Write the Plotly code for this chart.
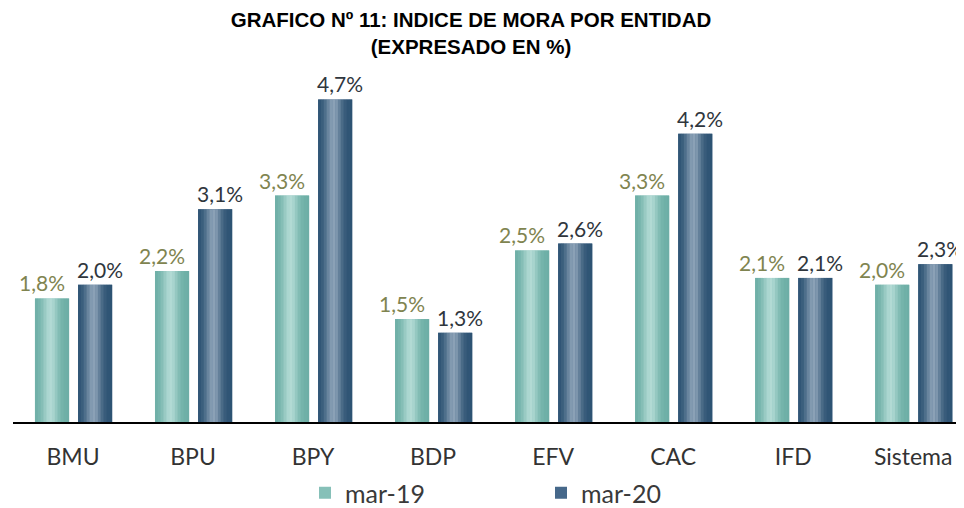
import math
import plotly.graph_objects as go

categories = ["BMU", "BPU", "BPY", "BDP", "EFV", "CAC", "IFD", "Sistema"]
mar19 = [1.8, 2.2, 3.3, 1.5, 2.5, 3.3, 2.1, 2.0]
mar20 = [2.0, 3.1, 4.7, 1.3, 2.6, 4.2, 2.1, 2.3]
series_names = ["mar-19", "mar-20"]

FONT = "Lato, 'Open Sans', sans-serif"
BAR_W = 0.283
styles = [
    dict(offset=-0.317, edge=(0x6c, 0xae, 0xa5), hi=(0xb2, 0xda, 0xd4), legend="#86c0b8",
         label_color="#7f8450", xshift=-10),
    dict(offset=0.042, edge=(0x2c, 0x52, 0x72), hi=(0x8b, 0xa1, 0xb6), legend="#46688a",
         label_color="#2f363d", xshift=5),
]


def mix(a, b, t):
    return "rgb(%d,%d,%d)" % tuple(round(a[i] + (b[i] - a[i]) * t) for i in range(3))


fig = go.Figure()
N = 12
for name, vals, st in zip(series_names, [mar19, mar20], styles):
    # base bar (also carries the legend entry)
    fig.add_trace(go.Bar(x=categories, y=vals, name=name, offset=st["offset"], width=BAR_W,
                         marker=dict(color=st["legend"], line=dict(width=0)),
                         hoverinfo="skip"))
    # cylinder shading stripes
    sw = BAR_W / N
    for k in range(N):
        t = (k + 0.5) / N
        h = math.exp(-((t - 0.45) / 0.24) ** 2)
        fig.add_trace(go.Bar(x=categories, y=vals, offset=st["offset"] + k * sw, width=sw * 1.08,
                             marker=dict(color=mix(st["edge"], st["hi"], h), line=dict(width=0)),
                             showlegend=False, hoverinfo="skip"))

annotations = []
for vals, st in zip([mar19, mar20], styles):
    for i, v in enumerate(vals):
        annotations.append(dict(
            x=i + st["offset"] + BAR_W / 2, y=v, xref="x", yref="y",
            text=f"{v:.1f}".replace(".", ",") + "%", showarrow=False,
            yanchor="bottom", xanchor="center", xshift=st["xshift"], yshift=1,
            font=dict(family=FONT, size=21, color=st["label_color"])))

fig.update_layout(
    width=964, height=508,
    barmode="overlay",
    paper_bgcolor="white", plot_bgcolor="white",
    margin=dict(l=5, r=0, t=70, b=86),
    title=dict(text="<b>GRAFICO Nº 11: INDICE DE MORA POR ENTIDAD<br>(EXPRESADO EN %)</b>",
               x=463 / 964, xref="container", xanchor="center",
               y=0.962, yref="container", yanchor="top",
               font=dict(family="'Liberation Sans', Arial, sans-serif", size=20.5, color="black")),
    xaxis=dict(type="category", range=[-0.5, 7.49], showgrid=False, zeroline=False,
               showline=True, linecolor="black", linewidth=2,
               ticks="outside", ticklen=13, tickcolor="rgba(0,0,0,0)",
               tickfont=dict(family=FONT, size=23, color="#333333")),
    yaxis=dict(range=[0, 5.013], visible=False, showgrid=False),
    legend=dict(orientation="h", x=0.5506, xanchor="center", y=-0.208, yanchor="middle",
                font=dict(family=FONT, size=25, color="#3a3a3a"), entrywidth=191,
                traceorder="normal"),
    annotations=annotations,
    showlegend=True,
)

fig.write_html("out.html")
